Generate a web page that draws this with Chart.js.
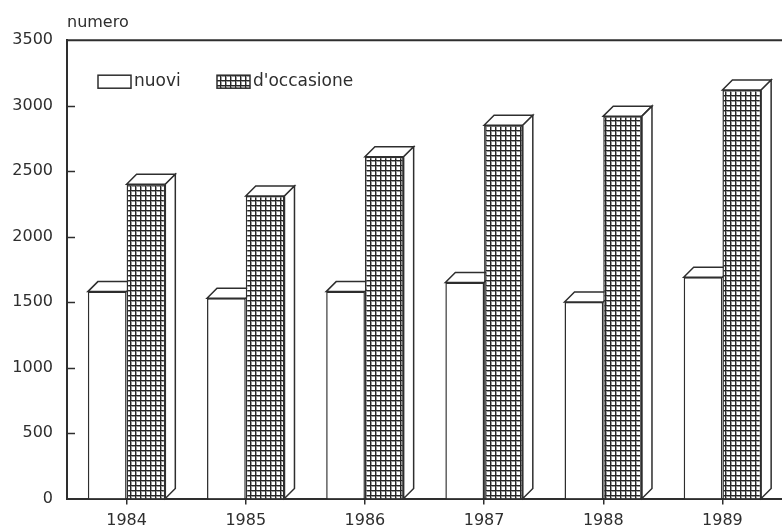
<!DOCTYPE html>
<html><head><meta charset="utf-8">
<script src="https://cdn.jsdelivr.net/npm/chart.js@4.4.0/dist/chart.umd.min.js"></script>
<style>html,body{margin:0;padding:0;background:#fff;}</style>
</head><body>
<canvas id="c" width="782" height="532"></canvas>
<script>
// ---- data ----
const years = ['1984', '1985', '1986', '1987', '1988', '1989'];
const nuovi = [1580, 1530, 1580, 1650, 1500, 1690];
const occasione = [2400, 2310, 2610, 2850, 2920, 3120];
const seriesLabels = ['nuovi', "d'occasione"];
const axisTitle = 'numero';
const yMin = 0, yMax = 3500, yStep = 500;

// ---- styling ----
const INK = '#2e2e2e';
const FONT = 'DejaVu Sans';
const D = 10; // 3D depth

const canvas = document.getElementById('c');
const mainCtx = canvas.getContext('2d');
function makePattern() {
  const p = document.createElement('canvas');
  p.width = 5; p.height = 5;
  const g = p.getContext('2d');
  g.fillStyle = '#fff'; g.fillRect(0, 0, 5, 5);
  g.fillStyle = '#9a9a9a';
  g.fillRect(0, 1, 5, 1);
  g.fillRect(1, 0, 1, 5);
  g.fillStyle = '#262626';
  g.fillRect(0, 0, 5, 1);
  g.fillRect(0, 0, 1, 5);
  return mainCtx.createPattern(p, 'repeat');
}
const hatch = makePattern();

function rectOf(el) {
  const p = el.getProps(['x', 'y', 'width', 'base'], true);
  return { L: p.x - p.width / 2, R: p.x + p.width / 2, T: p.y, B: p.base };
}

const bar3d = {
  id: 'bar3d',
  beforeDatasetsDraw(chart) {
    const ctx = chart.ctx;
    ctx.save();
    ctx.lineWidth = 1.5; ctx.strokeStyle = INK; ctx.fillStyle = '#fff';
    chart.getDatasetMeta(0).data.forEach(el => {
      const r = rectOf(el);
      ctx.beginPath();
      ctx.moveTo(r.L, r.T); ctx.lineTo(r.L + D, r.T - D); ctx.lineTo(r.R + D, r.T - D); ctx.lineTo(r.R, r.T);
      ctx.closePath(); ctx.fill(); ctx.stroke();
    });
    ctx.restore();
  },
  afterDatasetsDraw(chart) {
    const ctx = chart.ctx;
    ctx.save();
    ctx.lineWidth = 1.5; ctx.strokeStyle = INK; ctx.fillStyle = '#fff';
    chart.getDatasetMeta(1).data.forEach(el => {
      const r = rectOf(el);
      ctx.beginPath();
      ctx.moveTo(r.L, r.T); ctx.lineTo(r.L + D, r.T - D); ctx.lineTo(r.R + D, r.T - D); ctx.lineTo(r.R, r.T);
      ctx.closePath(); ctx.fill(); ctx.stroke();
      ctx.beginPath();
      ctx.moveTo(r.R, r.T); ctx.lineTo(r.R + D, r.T - D); ctx.lineTo(r.R + D, r.B - D); ctx.lineTo(r.R, r.B);
      ctx.closePath(); ctx.fill(); ctx.stroke();
    });
    ctx.restore();
  },
  afterDraw(chart) {
    const ctx = chart.ctx, a = chart.chartArea, ys = chart.scales.y;
    ctx.save();
    ctx.strokeStyle = INK;
    ctx.lineWidth = 2;
    ctx.beginPath(); ctx.moveTo(a.left, a.top); ctx.lineTo(a.right, a.top); ctx.stroke();
    ctx.lineWidth = 1.5;
    ys.ticks.forEach(t => {
      if (t.value <= yMin || t.value >= yMax) return;
      const y = Math.round(ys.getPixelForValue(t.value)) + 0.5;
      ctx.beginPath(); ctx.moveTo(a.left, y); ctx.lineTo(a.left + 8, y); ctx.stroke();
    });
    const x0 = a.left + 31, y0 = a.top + 35;
    const items = [
      { x: x0, fill: '#fff', label: chart.data.datasets[0].label },
      { x: x0 + 119, fill: hatch, label: chart.data.datasets[1].label }
    ];
    ctx.font = '17px "' + FONT + '"';
    ctx.textBaseline = 'middle'; ctx.textAlign = 'left';
    items.forEach(it => {
      ctx.fillStyle = it.fill;
      ctx.fillRect(it.x, y0, 33, 13);
      ctx.lineWidth = 1.5;
      ctx.strokeRect(it.x, y0, 33, 13);
      ctx.fillStyle = INK;
      ctx.fillText(it.label, it.x + 36, y0 + 6.5);
    });
    ctx.restore();
  }
};

const tickFont = { family: FONT, size: 16, weight: 'normal' };

new Chart(canvas, {
  type: 'bar',
  data: {
    labels: years,
    datasets: [
      { label: seriesLabels[0], data: nuovi, backgroundColor: '#fff', borderColor: INK, borderWidth: 1.5, borderSkipped: 'bottom',
        categoryPercentage: 0.65, barPercentage: 1.0 },
      { label: seriesLabels[1], data: occasione, backgroundColor: hatch, borderColor: INK, borderWidth: 1.5, borderSkipped: 'bottom',
        categoryPercentage: 0.65, barPercentage: 1.0 }
    ]
  },
  options: {
    responsive: false,
    animation: false,
    devicePixelRatio: 1,
    layout: { padding: { left: 0, right: 0, top: 0, bottom: 0 } },
    plugins: {
      legend: { display: false },
      tooltip: { enabled: false },
      title: {
        display: true, text: axisTitle, align: 'start', fullSize: false, color: INK,
        font: { family: FONT, size: 16, weight: 'normal' }, padding: { top: 13, bottom: 8 }
      }
    },
    scales: {
      x: {
        grid: { display: true, drawOnChartArea: false, offset: false, tickLength: 6, color: INK, lineWidth: 1.5 },
        border: { display: true, color: INK, width: 2 },
        ticks: { padding: 7, color: INK, font: tickFont, maxRotation: 0 },
        afterFit(s) { s.height = 33.5; }
      },
      y: {
        min: yMin, max: yMax,
        ticks: { stepSize: yStep, padding: 14, color: INK, font: tickFont, callback: v => String(v) },
        grid: { display: false, drawTicks: false },
        border: { display: true, color: INK, width: 2 },
        afterFit(s) { s.width = 67; }
      }
    }
  },
  plugins: [bar3d]
});
</script>
</body></html>
